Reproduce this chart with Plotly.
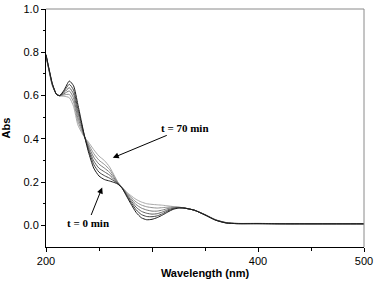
import plotly.graph_objects as go

wavelength = [200, 203, 206, 210, 213, 217, 222, 226, 230, 233, 236, 240, 245, 250, 255, 260, 265, 268, 272, 276,
              280, 285, 290, 295, 300, 305, 310, 315, 320, 325, 330, 340, 350, 360, 370, 380, 400, 420, 450, 480, 500]

abs_t0 = [0.79, 0.72, 0.655, 0.605, 0.60, 0.625, 0.667, 0.645, 0.56, 0.49, 0.42, 0.34, 0.265, 0.228, 0.212, 0.205, 0.197, 0.19, 0.17, 0.135,
          0.10, 0.06, 0.035, 0.026, 0.028, 0.036, 0.048, 0.062, 0.074, 0.08, 0.08, 0.07, 0.048, 0.024, 0.011, 0.008, 0.008, 0.007, 0.007, 0.007, 0.007]
abs_t1 = [0.788, 0.718, 0.653, 0.605, 0.60, 0.62, 0.652, 0.625, 0.54, 0.48, 0.418, 0.35, 0.282, 0.246, 0.23, 0.218, 0.203, 0.192, 0.171, 0.139,
          0.108, 0.072, 0.05, 0.041, 0.04, 0.044, 0.054, 0.067, 0.077, 0.081, 0.08, 0.07, 0.048, 0.024, 0.011, 0.008, 0.008, 0.007, 0.007, 0.007, 0.007]
abs_t2 = [0.786, 0.716, 0.651, 0.605, 0.60, 0.614, 0.636, 0.607, 0.52, 0.47, 0.416, 0.358, 0.298, 0.264, 0.248, 0.232, 0.208, 0.193, 0.172, 0.143,
          0.116, 0.084, 0.065, 0.056, 0.052, 0.054, 0.062, 0.072, 0.079, 0.082, 0.08, 0.07, 0.049, 0.025, 0.012, 0.008, 0.008, 0.008, 0.007, 0.007, 0.007]
abs_t3 = [0.784, 0.714, 0.649, 0.605, 0.599, 0.608, 0.621, 0.588, 0.50, 0.458, 0.414, 0.367, 0.315, 0.283, 0.265, 0.245, 0.214, 0.195, 0.173, 0.147,
          0.124, 0.096, 0.08, 0.071, 0.066, 0.066, 0.071, 0.078, 0.082, 0.083, 0.081, 0.07, 0.049, 0.025, 0.012, 0.009, 0.008, 0.008, 0.008, 0.008, 0.008]
abs_t4 = [0.782, 0.712, 0.647, 0.605, 0.599, 0.603, 0.605, 0.57, 0.483, 0.446, 0.412, 0.376, 0.332, 0.301, 0.282, 0.258, 0.22, 0.197, 0.174, 0.151,
          0.131, 0.108, 0.094, 0.086, 0.082, 0.08, 0.082, 0.084, 0.085, 0.084, 0.081, 0.07, 0.05, 0.026, 0.013, 0.009, 0.009, 0.008, 0.008, 0.008, 0.008]
abs_t70 = [0.78, 0.71, 0.645, 0.605, 0.598, 0.597, 0.59, 0.55, 0.465, 0.435, 0.41, 0.385, 0.35, 0.32, 0.30, 0.27, 0.225, 0.198, 0.175, 0.155,
           0.138, 0.12, 0.108, 0.10, 0.097, 0.095, 0.093, 0.09, 0.087, 0.084, 0.081, 0.07, 0.05, 0.026, 0.013, 0.009, 0.009, 0.008, 0.008, 0.008, 0.008]

series = [abs_t70, abs_t4, abs_t3, abs_t2, abs_t1, abs_t0]
colors = ["#a8a8a8", "#909090", "#787878", "#5e5e5e", "#404040", "#1a1a1a"]

x_tickvals = [200, 300, 400, 500]
x_ticktext = ["200", "", "400", "500"]
y_tickvals = [0.0, 0.2, 0.4, 0.6, 0.8, 1.0]
y_ticktext = ["0.0", "0.2", "0.4", "0.6", "0.8", "1.0"]

fig = go.Figure()
for s, c in zip(series, colors):
    fig.add_trace(go.Scatter(x=wavelength, y=s, mode="lines",
                             line=dict(color=c, width=1, shape="spline", smoothing=0.6),
                             showlegend=False, hoverinfo="skip"))

font_sans = "Liberation Sans, Arial, sans-serif"
font_serif = "Liberation Serif, Times New Roman, serif"

fig.update_layout(
    width=378, height=282,
    margin=dict(l=46, r=14, t=9, b=35, autoexpand=False),
    paper_bgcolor="white", plot_bgcolor="white",
    font=dict(family=font_sans, size=11, color="black"),
    xaxis=dict(range=[200, 500], tickvals=x_tickvals, ticktext=x_ticktext,
               showgrid=False, zeroline=False, showline=True, linecolor="black", linewidth=1,
               ticks="outside", ticklen=4, tickwidth=1, tickcolor="black",
               minor=dict(tickvals=[250, 350, 450], ticks="outside", ticklen=2.5, tickcolor="black"),
               tickfont=dict(size=11), automargin=False,
               title=dict(text="<b>Wavelength (nm)</b>", font=dict(size=11), standoff=2)),
    yaxis=dict(range=[-0.1, 1.0], tickvals=y_tickvals, ticktext=y_ticktext,
               showgrid=False, zeroline=False, showline=True, linecolor="black", linewidth=1,
               ticks="outside", ticklen=4, tickwidth=1, tickcolor="black",
               minor=dict(tickvals=[0.1, 0.3, 0.5, 0.7, 0.9], ticks="outside", ticklen=2.5, tickcolor="black"),
               tickfont=dict(size=11), automargin=False,
               title=dict(text="<b>Abs</b>", font=dict(size=11), standoff=10)),
    shapes=[
        dict(type="line", xref="paper", yref="paper", x0=0, x1=1, y0=1, y1=1, line=dict(color="#8a8a8a", width=1)),
        dict(type="line", xref="paper", yref="paper", x0=1, x1=1, y0=0, y1=1, line=dict(color="#8a8a8a", width=1)),
    ],
    annotations=[
        dict(x=263, y=0.312, ax=72, ay=-30, text="<b>t = 70 min</b>",
             font=dict(family=font_serif, size=11, color="black"),
             showarrow=True, arrowhead=2, arrowsize=1.2, arrowwidth=1, arrowcolor="black"),
        dict(x=253, y=0.175, ax=-14, ay=35, text="<b>t = 0 min</b>",
             font=dict(family=font_serif, size=11, color="black"),
             showarrow=True, arrowhead=2, arrowsize=1.2, arrowwidth=1, arrowcolor="black"),
    ],
)

fig.write_html("out.html", config={"displayModeBar": False},
               post_script="document.body.style.margin='0';document.body.style.overflow='hidden';")
